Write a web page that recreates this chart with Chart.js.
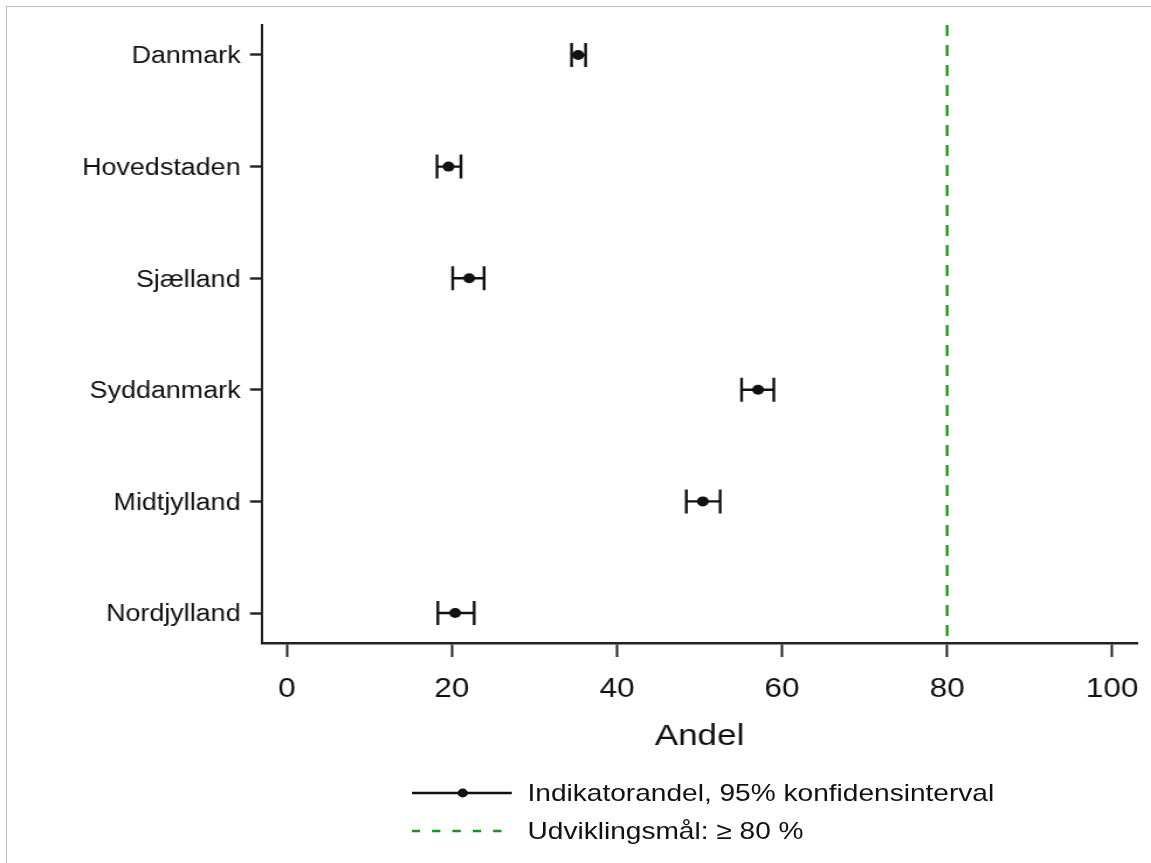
<!DOCTYPE html>
<html lang="da">
<head>
<meta charset="utf-8">
<title>Andel pr. region</title>
<script src="https://cdn.jsdelivr.net/npm/chart.js@4.4.1/dist/chart.umd.min.js"></script>
<style>
  html, body { margin: 0; padding: 0; background: #fff; overflow: hidden; }
  body { width: 1151px; height: 863px; position: relative; }
  #ramme { position: absolute; left: 6px; top: 6px; width: 1160px; height: 870px;
           border-top: 1px solid #bdbdbd; border-left: 1px solid #bdbdbd; }
  /* the figure is laid out 984px wide and widened to the full 1151px */
  #flade { position: absolute; left: 0; top: 0; width: 984px; height: 863px;
           transform-origin: 0 0; transform: scaleX(1.16972); }
  #flade canvas { position: absolute; left: 0; top: 0; }
  .forklaring { position: absolute; left: 352px; height: 24px; display: flex; align-items: center;
                font: 24px 'Liberation Sans', Arial, sans-serif; color: #111; white-space: nowrap; }
  .forklaring svg { width: 86px; height: 24px; margin-right: 13px; flex: none; }
</style>
</head>
<body>
<div id="ramme"></div>
<div id="flade">
  <canvas id="figur" width="984" height="863"></canvas>
  <div class="forklaring" style="top:781px">
    <svg viewBox="0 0 86 24"><line x1="0" y1="12" x2="85.5" y2="12" stroke="#111" stroke-width="2.4"/><circle cx="43.6" cy="12" r="4.4" fill="#111"/></svg>
    <span>Indikatorandel, 95% konfidensinterval</span>
  </div>
  <div class="forklaring" style="top:819px">
    <svg viewBox="0 0 86 24"><line x1="0" y1="12" x2="77" y2="12" stroke="#139813" stroke-width="2.3" stroke-dasharray="7.1 10.3"/></svg>
    <span>Udviklingsmål: ≥ 80 %</span>
  </div>
</div>
<script>
// Regioner, fra øverst til nederst
const regioner = ['Danmark', 'Hovedstaden', 'Sjælland', 'Syddanmark', 'Midtjylland', 'Nordjylland'];
// Indikatorandel (%) og 95% konfidensinterval
const andel  = [35.3, 19.6, 22.1, 57.1, 50.4, 20.4];
const nedre  = [34.5, 18.2, 20.1, 55.1, 48.4, 18.3];
const oevre  = [36.2, 21.1, 23.9, 59.0, 52.5, 22.7];
// Udviklingsmål
const udviklingsmaal = 80;
// Aksemærker på x-aksen
const xTicks = [0, 20, 40, 60, 80, 100];

const antal = regioner.length;
const raekke = i => antal - i;          // Danmark øverst
const yMin = 1 - 0.2687, yMax = antal + 0.2687;

const tekstFarve = '#111';
const akseFarve = '#222';
const fam = "'Liberation Sans', Arial, sans-serif";

// Vandrette intervalstreger med endestreger
const konfidensinterval = {
  id: 'konfidensinterval',
  beforeDatasetsDraw(chart) {
    const { ctx, scales: { x, y } } = chart;
    ctx.save();
    ctx.strokeStyle = '#111';
    ctx.lineWidth = 2.4;
    ctx.lineCap = 'butt';
    andel.forEach((_, i) => {
      const py = y.getPixelForValue(raekke(i));
      const x0 = x.getPixelForValue(nedre[i]);
      const x1 = x.getPixelForValue(oevre[i]);
      ctx.beginPath();
      ctx.moveTo(x0, py); ctx.lineTo(x1, py);
      ctx.moveTo(x0, py - 12); ctx.lineTo(x0, py + 12);
      ctx.moveTo(x1, py - 12); ctx.lineTo(x1, py + 12);
      ctx.stroke();
    });
    ctx.restore();
  }
};

new Chart(document.getElementById('figur'), {
  type: 'scatter',
  data: {
    datasets: [
      {
        label: 'Indikatorandel, 95% konfidensinterval',
        data: andel.map((v, i) => ({ x: v, y: raekke(i) })),
        pointRadius: 5,
        pointBackgroundColor: '#111',
        pointBorderWidth: 0,
        showLine: false
      },
      {
        // målstregen tegnes ovenfra og ned
        type: 'line',
        label: 'Udviklingsmål: ≥ 80 %',
        data: [{ x: udviklingsmaal, y: yMax }, { x: udviklingsmaal, y: yMin }],
        borderColor: '#139813',
        borderWidth: 2.3,
        borderDash: [11, 9],
        pointRadius: 0,
        fill: false
      }
    ]
  },
  options: {
    responsive: false,
    devicePixelRatio: 1,
    animation: false,
    layout: { padding: { left: 0, right: 12, top: 25, bottom: 108.6 } },
    plugins: { legend: { display: false }, tooltip: { enabled: false } },
    scales: {
      x: {
        type: 'linear',
        min: -3,
        max: 103,
        afterBuildTicks: s => { s.ticks = xTicks.map(v => ({ value: v })); },
        afterFit: s => { s.height = 111.4; s.paddingLeft = 0; s.paddingRight = 0; },
        ticks: { font: { family: fam, size: 27 }, color: tekstFarve, padding: 16 },
        grid: { drawOnChartArea: false, tickLength: 14, tickWidth: 2, tickColor: akseFarve },
        border: { color: akseFarve, width: 2.5 },
        title: { display: true, text: 'Andel', color: tekstFarve,
                 font: { family: fam, size: 30 }, padding: { top: 0, bottom: 0 } }
      },
      y: {
        type: 'linear',
        min: yMin,
        max: yMax,
        afterBuildTicks: s => { s.ticks = regioner.map((_, i) => ({ value: raekke(i) })); },
        afterFit: s => { s.width = 224; s.paddingTop = 0; s.paddingBottom = 0; },
        ticks: {
          font: { family: fam, size: 23 }, color: tekstFarve, padding: 8, labelOffset: 2,
          callback: v => regioner[antal - Math.round(v)]
        },
        grid: { drawOnChartArea: false, tickLength: 10.3, tickWidth: 2.4, tickColor: akseFarve },
        border: { color: akseFarve, width: 2 }
      }
    }
  },
  plugins: [konfidensinterval]
});
</script>
</body>
</html>
